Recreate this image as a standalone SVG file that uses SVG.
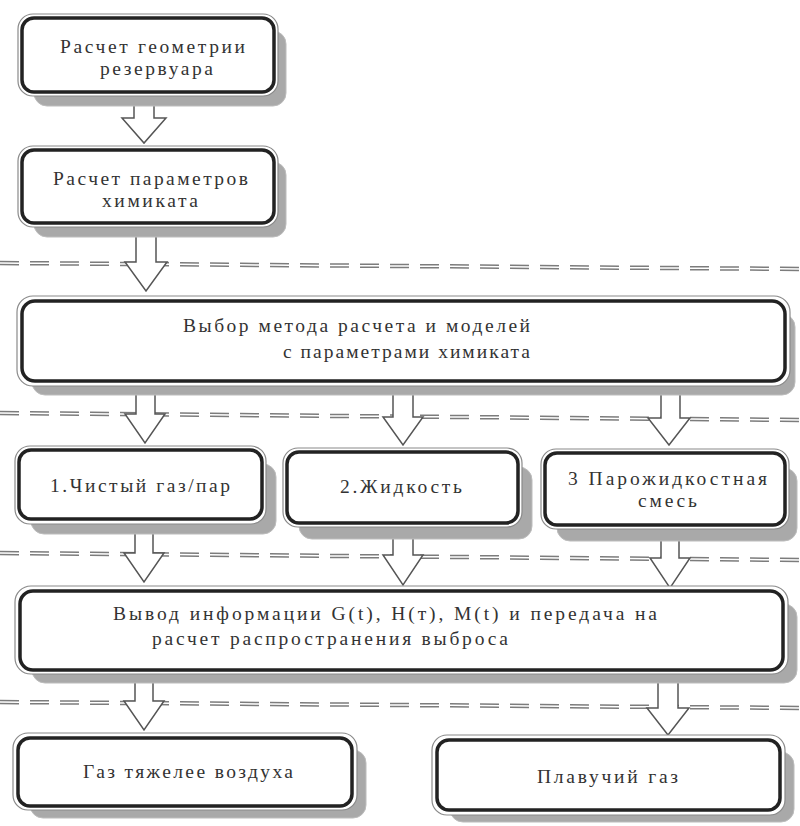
<svg xmlns="http://www.w3.org/2000/svg" width="800" height="826" viewBox="0 0 800 826">
<style>
.sh{fill:#a9a9a9;stroke:#bcbcbc;stroke-width:1}
.ob{fill:#fff;stroke:#8a8a8a;stroke-width:1.2}
.ib{fill:#fff;stroke:#222;stroke-width:3.5}
.t{font-family:"Liberation Serif","Times New Roman",serif;font-size:19.5px;fill:#333}
.ar{fill:#fff;stroke:#555;stroke-width:1.5;stroke-linejoin:miter}
.dl{stroke:#7c7c7c;stroke-width:1.5;stroke-dasharray:19 11;fill:none}
</style>
<rect width="800" height="826" fill="#fff"/>

<g id="separators">
<path class="dl" d="M0 261.5 L800 267.5 M0 264.5 L800 270.5"/>
<path class="dl" d="M0 411.5 L800 418.5 M0 414.5 L800 421.5"/>
<path class="dl" d="M0 551.5 L800 558.5 M0 554.5 L800 561.5"/>
<path class="dl" d="M0 700.5 L800 706.5 M0 703.5 L800 709.5"/>
</g>

<g id="connectors">
<path class="ar" d="M134 103 L154 103 L154 118 L166 118 L144 143 L122 118 L134 118 Z"/>
<path class="ar" d="M136 235 L156 235 L156 262 L167 262 L146 291 L125 262 L136 262 Z"/>
<path class="ar" d="M136 393 L155 393 L155 414 L165 414 L145 443 L125 414 L136 414 Z"/>
<path class="ar" d="M393 393 L413 393 L413 417 L423 417 L403 445 L383 417 L393 417 Z"/>
<path class="ar" d="M661 394 L680 394 L680 418 L690 418 L669 445 L648 418 L661 418 Z"/>
<path class="ar" d="M135 533 L153 533 L153 553 L164 553 L144 582 L124 553 L135 553 Z"/>
<path class="ar" d="M393 537 L413 537 L413 555 L423 555 L403 585 L383 555 L393 555 Z"/>
<path class="ar" d="M661 540 L679 540 L679 558 L690 558 L670 588 L650 558 L661 558 Z"/>
<path class="ar" d="M135 681 L153 681 L153 701 L164 701 L144 730 L124 701 L135 701 Z"/>
<path class="ar" d="M658 681 L678 681 L678 708 L689 708 L668 735 L647 708 L658 708 Z"/>
</g>

<g id="n1">
<rect class="sh" x="34" y="31" width="252" height="75" rx="13"/>
<rect class="ob" x="18" y="14" width="260" height="82" rx="15"/>
<rect class="ib" x="22" y="18" width="252" height="74" rx="12"/>
<text class="t" x="60" y="53" textLength="185" lengthAdjust="spacing">Расчет геометрии</text>
<text class="t" x="100" y="75" textLength="113" lengthAdjust="spacing">резервуара</text>
</g>

<g id="n2">
<rect class="sh" x="34" y="162" width="252" height="75" rx="13"/>
<rect class="ob" x="18" y="146" width="260" height="81" rx="15"/>
<rect class="ib" x="22" y="150" width="252" height="73" rx="12"/>
<text class="t" x="53" y="185" textLength="195" lengthAdjust="spacing">Расчет параметров</text>
<text class="t" x="102" y="207" textLength="96" lengthAdjust="spacing">химиката</text>
</g>

<g id="n3">
<rect class="sh" x="32" y="314" width="763" height="81" rx="13"/>
<rect class="ob" x="17" y="296" width="773" height="90" rx="16"/>
<rect class="ib" x="22" y="301" width="763" height="80" rx="13"/>
<text class="t" x="183" y="332" textLength="347" lengthAdjust="spacing">Выбор метода расчета и моделей</text>
<text class="t" x="283" y="358" textLength="247" lengthAdjust="spacing">с параметрами химиката</text>
</g>

<g id="n4a">
<rect class="sh" x="31" y="464" width="245" height="70" rx="13"/>
<rect class="ob" x="15" y="446" width="251" height="78" rx="15"/>
<rect class="ib" x="19" y="450" width="243" height="69" rx="12"/>
<text class="t" x="50" y="492" textLength="180" lengthAdjust="spacing">1.Чистый газ/пар</text>
</g>

<g id="n4b">
<rect class="sh" x="299" y="467" width="233" height="72" rx="13"/>
<rect class="ob" x="283" y="448" width="239" height="79" rx="15"/>
<rect class="ib" x="287" y="452" width="231" height="71" rx="12"/>
<text class="t" x="340" y="493" textLength="122" lengthAdjust="spacing">2.Жидкость</text>
</g>

<g id="n4c">
<rect class="sh" x="557" y="468" width="240" height="73" rx="13"/>
<rect class="ob" x="541" y="449" width="248" height="80" rx="15"/>
<rect class="ib" x="545" y="453" width="240" height="72" rx="12"/>
<text class="t" x="568" y="485" textLength="199" lengthAdjust="spacing">3 Парожидкостная</text>
<text class="t" x="638" y="507" textLength="59" lengthAdjust="spacing">смесь</text>
</g>

<g id="n5">
<rect class="sh" x="32" y="604" width="765" height="79" rx="13"/>
<rect class="ob" x="15" y="586" width="773" height="88" rx="16"/>
<rect class="ib" x="20" y="591" width="763" height="79" rx="13"/>
<text class="t" x="113" y="620" textLength="544" lengthAdjust="spacing">Вывод информации G(t), H(т), M(t)  и передача на</text>
<text class="t" x="152" y="645" textLength="356" lengthAdjust="spacing">расчет распространения выброса</text>
</g>

<g id="n6a">
<rect class="sh" x="30" y="750" width="336" height="68" rx="13"/>
<rect class="ob" x="13" y="733" width="344" height="77" rx="15"/>
<rect class="ib" x="18" y="738" width="334" height="68" rx="12"/>
<text class="t" x="83" y="778" textLength="210" lengthAdjust="spacing">Газ тяжелее воздуха</text>
</g>

<g id="n6b">
<rect class="sh" x="450" y="752" width="344" height="70" rx="13"/>
<rect class="ob" x="432" y="735" width="353" height="80" rx="15"/>
<rect class="ib" x="437" y="740" width="343" height="70" rx="12"/>
<text class="t" x="537" y="783" textLength="141" lengthAdjust="spacing">Плавучий газ</text>
</g>
</svg>
